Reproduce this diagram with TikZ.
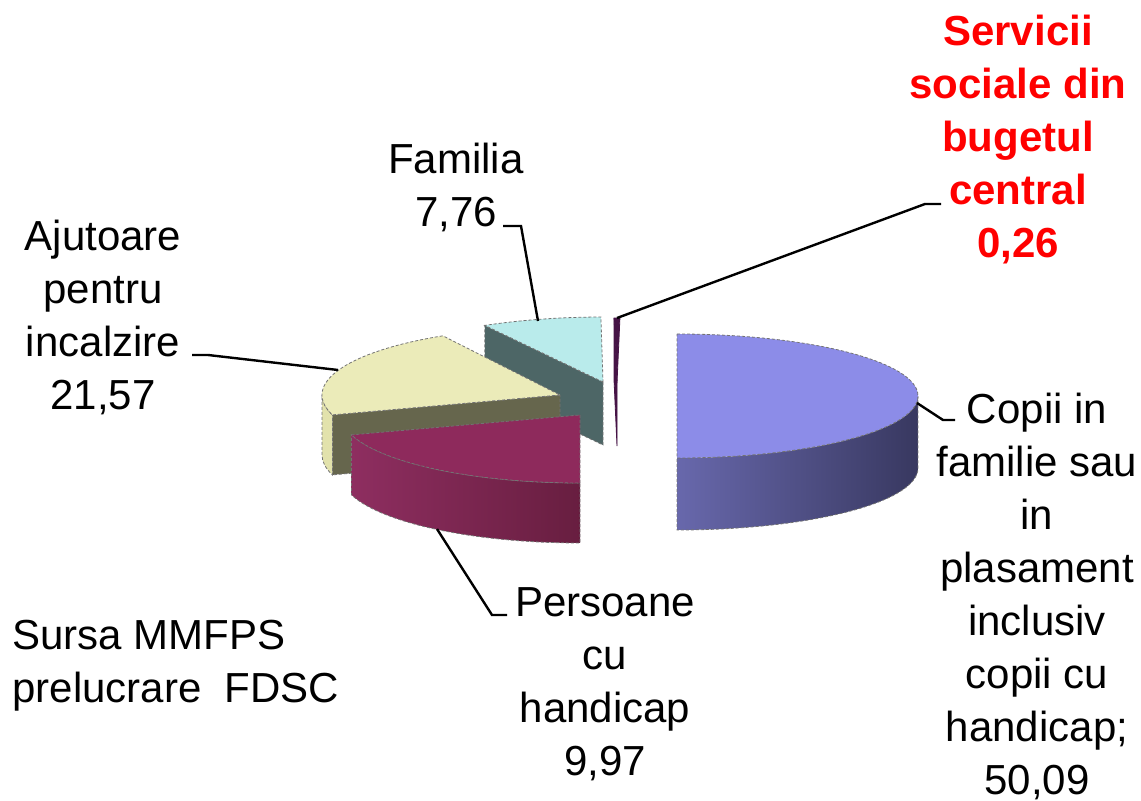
\documentclass[tikz,border=0pt]{standalone}
\usepackage{fontspec}
\setmainfont{Liberation Sans}

\definecolor{copiitop}{RGB}{140,140,232}
\definecolor{copiiside}{RGB}{104,104,172}
\definecolor{copiidark}{RGB}{56,56,96}
\definecolor{perstop}{RGB}{142,42,92}
\definecolor{persside}{RGB}{142,46,96}
\definecolor{persdark}{RGB}{104,30,64}
\definecolor{ajuttop}{RGB}{235,235,185}
\definecolor{ajutside}{RGB}{226,226,172}
\definecolor{ajutface}{RGB}{102,102,77}
\definecolor{famtop}{RGB}{185,235,235}
\definecolor{famface}{RGB}{77,102,102}
\definecolor{servtop}{RGB}{70,20,70}

\newcommand\lblfont{\fontsize{21}{26.5}\selectfont}

\tikzset{
	slice/.style={draw=black!55, line width=0.4pt, dash pattern=on 1.5pt off 1pt},
	lbl/.style={align=center, inner sep=0pt, anchor=north, font=\lblfont},
	leader/.style={line width=1.2pt},
}

\begin{document}
\begin{tikzpicture}[x=0.5pt, y=-0.5pt]
	\useasboundingbox (0,0) rectangle (1141,801);

	% Familia
	\begin{scope}[shift={(603,382)}]
		\filldraw[slice, fill=famface] (0,0) -- (240.5:240 and 65) -- ++(0,63) -- (0,63) -- cycle;
		\filldraw[slice, fill=famtop] (0,0) -- (240.5:240 and 65) arc[start angle=240.5, end angle=269.5, x radius=240, y radius=65] -- cycle;
	\end{scope}

	% Servicii sociale
	\begin{scope}[shift={(617,383)}]
		\filldraw[draw=servtop, fill=servtop] (0,0) -- (269.3:240 and 65) -- ++(0,63) -- (0,63) -- cycle;
		\filldraw[draw=servtop, fill=servtop] (0,0) -- (269.3:240 and 65) arc[start angle=269.3, end angle=270.7, x radius=240, y radius=65] -- cycle;
	\end{scope}

	% Ajutoare
	\begin{scope}[shift={(560,395)}]
		\filldraw[slice, fill=ajutface] (0,0) -- (163:238 and 68) -- ++(0,60) -- (0,60) -- cycle;
		\filldraw[slice, fill=ajutside] (163:238 and 68) arc[start angle=163, end angle=180, x radius=238, y radius=68] -- ++(0,60) arc[start angle=180, end angle=163, x radius=238, y radius=68] -- cycle;
		\filldraw[slice, fill=ajuttop] (0,0) -- (163:238 and 68) arc[start angle=163, end angle=240.5, x radius=238, y radius=68] -- cycle;
	\end{scope}

	% Persoane
	\begin{scope}[shift={(580,415)}]
		\shadedraw[slice, left color=persside, right color=persdark] (90:239 and 68) arc[start angle=90, end angle=163, x radius=239, y radius=68] -- ++(0,60) arc[start angle=163, end angle=90, x radius=239, y radius=68] -- cycle;
		\filldraw[slice, fill=perstop] (0,0) -- (90:239 and 68) arc[start angle=90, end angle=163, x radius=239, y radius=68] -- cycle;
	\end{scope}

	% Copii
	\begin{scope}[shift={(677,396)}]
		\shadedraw[slice, left color=copiiside, right color=copiidark] (0:241 and 62) arc[start angle=0, end angle=90, x radius=241, y radius=62] -- ++(0,72) arc[start angle=90, end angle=0, x radius=241, y radius=62] -- cycle;
		\filldraw[slice, fill=copiitop] (-90:241 and 62) arc[start angle=-90, end angle=90, x radius=241, y radius=62] -- cycle;
	\end{scope}

	% Labels
	\node[lbl, text=red, font=\lblfont\bfseries] (serv) at (1018,15) {Servicii\\sociale din\\bugetul\\central\\0,26};
	\node[lbl] (fam) at (456,143) {Familia\\7,76};
	\node[lbl] (ajut) at (103,220) {Ajutoare\\pentru\\incalzire\\21,57};
	\node[lbl] (copii) at (1037,393) {Copii in\\familie sau\\in\\plasament\\inclusiv\\copii cu\\handicap;\\50,09};
	\node[lbl] (pers) at (605,587) {Persoane\\cu\\handicap\\9,97};
	\node[lbl, align=left, anchor=north west] (sursa) at (12,620) {Sursa MMFPS\\prelucrare~~FDSC};

	% Leaders
	\coordinate (serv-tip) at (617,318);
	\coordinate (serv-elbow) at (925,204);
	\coordinate (serv-end) at (941,204);
	\coordinate (fam-tip) at (538,321);
	\coordinate (fam-elbow) at (521,226);
	\coordinate (fam-end) at (503,226);
	\coordinate (ajut-tip) at (338,370);
	\coordinate (ajut-elbow) at (208,355);
	\coordinate (ajut-end) at (192,355);
	\coordinate (pers-tip) at (437,529);
	\coordinate (pers-elbow) at (492,615);
	\coordinate (pers-end) at (507,615);
	\coordinate (copii-tip) at (917,403);
	\coordinate (copii-elbow) at (943,420);
	\coordinate (copii-end) at (955,420);
	\foreach \n in {serv,fam,ajut,pers,copii}
		\draw[leader] (\n-tip) -- (\n-elbow) -- (\n-end);
\end{tikzpicture}
\end{document}
